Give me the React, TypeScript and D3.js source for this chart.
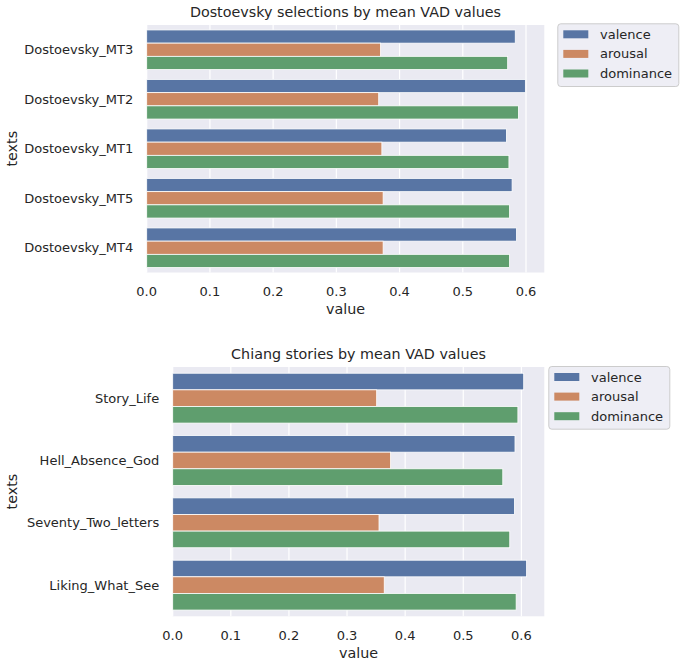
import { useRef, useEffect } from 'react'
import * as d3 from 'd3'

const MEASURES = ['valence', 'arousal', 'dominance']
const COLORS = ['#5875a4', '#cc8963', '#5f9e6e']
const X_TICKS = [0, 0.1, 0.2, 0.3, 0.4, 0.5, 0.6]

const dostoTexts = ['Dostoevsky_MT3', 'Dostoevsky_MT2', 'Dostoevsky_MT1', 'Dostoevsky_MT5', 'Dostoevsky_MT4']
const dostoValence = [0.583, 0.599, 0.569, 0.578, 0.585]
const dostoArousal = [0.37, 0.367, 0.372, 0.374, 0.374]
const dostoDominance = [0.571, 0.588, 0.573, 0.574, 0.574]

const chiangTexts = ['Story_Life', 'Hell_Absence_God', 'Seventy_Two_letters', 'Liking_What_See']
const chiangValence = [0.604, 0.589, 0.588, 0.609]
const chiangArousal = [0.351, 0.375, 0.355, 0.364]
const chiangDominance = [0.594, 0.568, 0.58, 0.591]

const W = 687
const H = 663
const FONT = '"DejaVu Sans", sans-serif'
const INK = '#262626'

interface Panel {
  title: string
  texts: string[]
  series: number[][]
  box: { left: number; right: number; top: number; bottom: number }
  legend: { x: number; y: number }
}

const panels: Panel[] = [
  {
    title: 'Dostoevsky selections by mean VAD values',
    texts: dostoTexts,
    series: [dostoValence, dostoArousal, dostoDominance],
    box: { left: 146.7, right: 544.3, top: 25, bottom: 272.5 },
    legend: { x: 557.3, y: 23.3 },
  },
  {
    title: 'Chiang stories by mean VAD values',
    texts: chiangTexts,
    series: [chiangValence, chiangArousal, chiangDominance],
    box: { left: 172.7, right: 544.3, top: 367, bottom: 616.3 },
    legend: { x: 548.3, y: 366 },
  },
]

function drawPanel(root: d3.Selection<SVGGElement, unknown, null, undefined>, p: Panel) {
  const { left, right, top, bottom } = p.box
  const maxV = d3.max(p.series.flat()) ?? 1
  // matplotlib-style 5% margin past the longest bar
  const x = d3.scaleLinear().domain([0, maxV * 1.05]).range([left, right])
  const y = d3.scaleBand().domain(p.texts).range([top, bottom]).paddingInner(0.2).paddingOuter(0.1)
  const hue = d3.scaleBand().domain(MEASURES).range([0, y.bandwidth()])
  const color = d3.scaleOrdinal<string, string>().domain(MEASURES).range(COLORS)

  const g = root.append('g')

  g.append('rect')
    .attr('x', left).attr('y', top)
    .attr('width', right - left).attr('height', bottom - top)
    .attr('fill', '#eaeaf2')

  // Vertical gridlines only
  g.append('g')
    .selectAll('line')
    .data(X_TICKS)
    .join('line')
    .attr('x1', (d) => x(d)).attr('x2', (d) => x(d))
    .attr('y1', top).attr('y2', bottom)
    .attr('stroke', '#fff').attr('stroke-width', 1.2)

  // Bars
  const rows = p.texts.flatMap((t, i) => MEASURES.map((m, j) => ({ t, m, v: p.series[j][i] })))
  g.append('g')
    .selectAll('rect')
    .data(rows)
    .join('rect')
    .attr('x', x(0))
    .attr('y', (d) => (y(d.t) ?? 0) + (hue(d.m) ?? 0))
    .attr('width', (d) => x(d.v) - x(0))
    .attr('height', hue.bandwidth())
    .attr('fill', (d) => color(d.m))
    .attr('stroke', '#fff')
    .attr('stroke-width', 0.8)

  // Y tick labels
  g.append('g')
    .selectAll('text')
    .data(p.texts)
    .join('text')
    .attr('x', left - 13.5)
    .attr('y', (d) => (y(d) ?? 0) + y.bandwidth() / 2)
    .attr('dy', '0.35em')
    .attr('text-anchor', 'end')
    .attr('font-size', 13)
    .attr('fill', INK)
    .text((d) => d)

  // X tick labels
  g.append('g')
    .selectAll('text')
    .data(X_TICKS)
    .join('text')
    .attr('x', (d) => x(d))
    .attr('y', bottom + 19)
    .attr('dy', '0.35em')
    .attr('text-anchor', 'middle')
    .attr('font-size', 13)
    .attr('fill', INK)
    .text((d) => d3.format('.1f')(d))

  g.append('text')
    .attr('x', (left + right) / 2)
    .attr('y', bottom + 36.5)
    .attr('dy', '0.35em')
    .attr('text-anchor', 'middle')
    .attr('font-size', 14.3)
    .attr('fill', INK)
    .text('value')

  g.append('text')
    .attr('transform', `translate(12,${(top + bottom) / 2}) rotate(-90)`)
    .attr('dy', '0.35em')
    .attr('text-anchor', 'middle')
    .attr('font-size', 14.3)
    .attr('fill', INK)
    .text('texts')

  g.append('text')
    .attr('x', (left + right) / 2)
    .attr('y', top - 8)
    .attr('text-anchor', 'middle')
    .attr('font-size', 14.3)
    .attr('fill', INK)
    .text(p.title)

  // Legend
  const lg = g.append('g').attr('transform', `translate(${p.legend.x},${p.legend.y})`)
  lg.append('rect')
    .attr('x', 0.5).attr('y', 0.5)
    .attr('width', 121).attr('height', 62.7)
    .attr('rx', 3)
    .attr('fill', '#eeeef5')
    .attr('stroke', '#cccccc')
    .attr('stroke-width', 1)
  const items = lg.selectAll('g.item')
    .data(MEASURES)
    .join('g')
    .attr('class', 'item')
    .attr('transform', (_, i) => `translate(0,${11 + i * 19.6})`)
  items.append('rect')
    .attr('x', 6).attr('y', -4)
    .attr('width', 25).attr('height', 8)
    .attr('fill', (d) => color(d))
  items.append('text')
    .attr('x', 42.7)
    .attr('dy', '0.35em')
    .attr('font-size', 13)
    .attr('fill', INK)
    .text((d) => d)
}

export default function App() {
  const svgRef = useRef<SVGSVGElement>(null)

  useEffect(() => {
    if (!svgRef.current) return
    const svg = d3.select(svgRef.current)
    svg.selectAll('*').remove()
    const root = svg.append('g').attr('font-family', FONT)
    panels.forEach((p) => drawPanel(root, p))
  }, [])

  return (
    <svg
      ref={svgRef}
      width={W}
      height={H}
      style={{ position: 'absolute', left: 0, top: 0, background: '#fff' }}
    />
  )
}
